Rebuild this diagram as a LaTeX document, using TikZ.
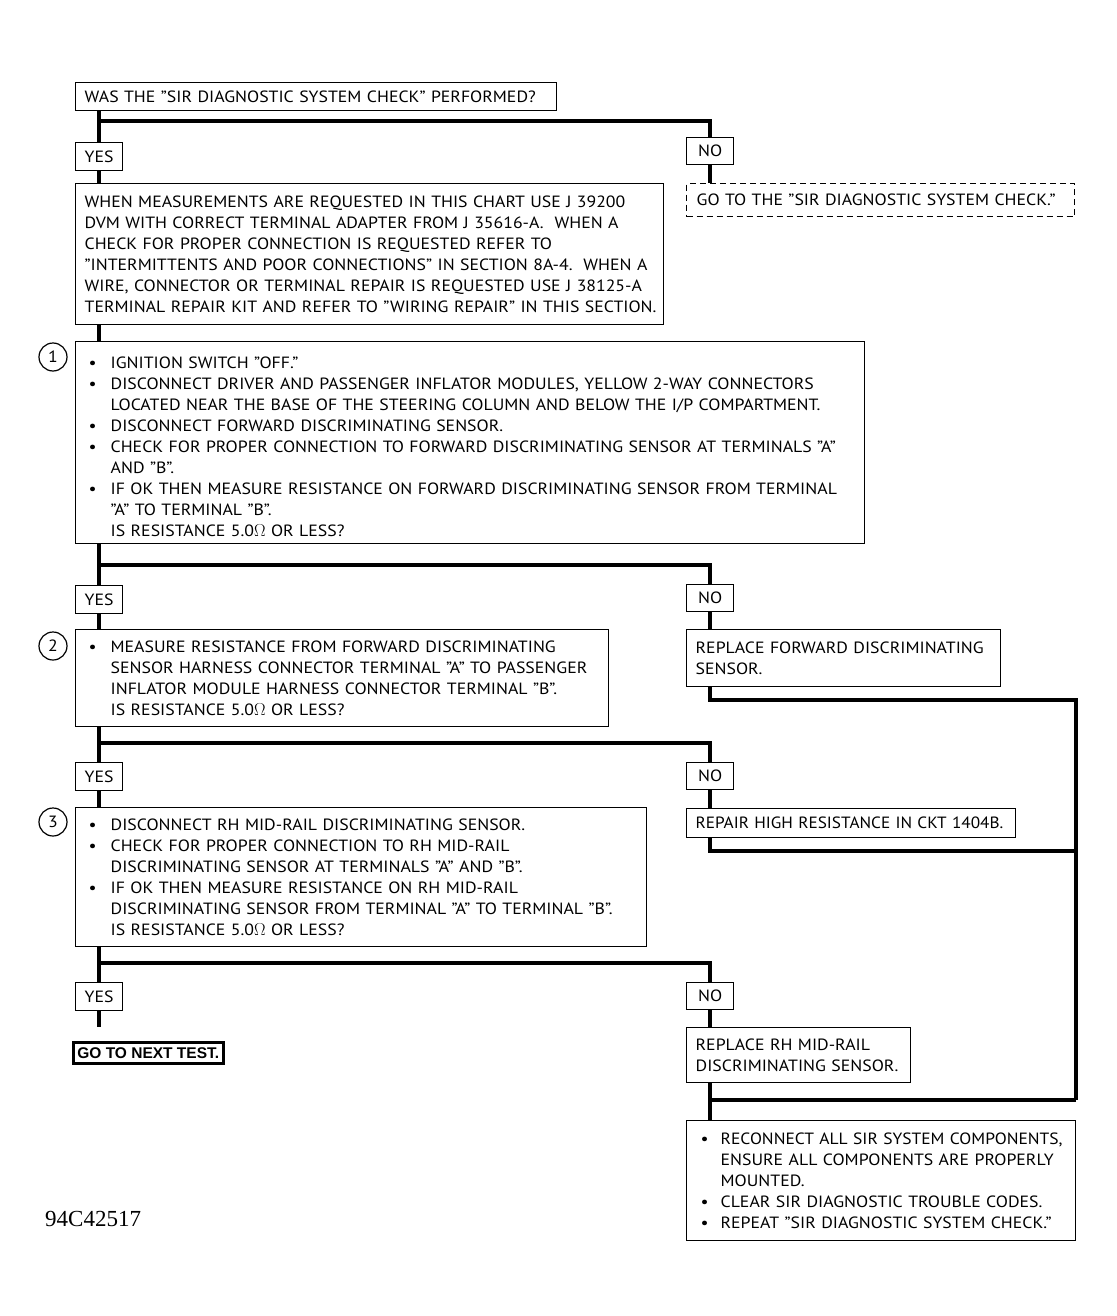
\documentclass[tikz,border=0pt]{standalone}
\usepackage{fontspec}
\usepackage{graphicx}
\setmainfont[FakeStretch=1.09]{PT Sans}
\newfontfamily\numfont{Liberation Serif}
\newfontfamily\nextfont{Liberation Sans}
\newcommand\myfs{\fontsize{16.3}{21}\selectfont}
\newcommand\Ln[1]{\mbox{#1}}
\newcommand\bl{\makebox[22pt][l]{\textbullet}}
\newcommand\ind{\hspace*{22pt}}
\newcommand\blf{\makebox[20pt][l]{\textbullet}}
\newcommand\indf{\hspace*{20pt}}
\newcommand\ohm{$\Omega$}
\begin{document}
\begin{tikzpicture}[x=1pt,y=-1pt,
  box/.style={draw, line width=1.3pt, anchor=north west, inner xsep=9pt, inner ysep=0pt, align=left, font=\myfs},
  yn/.style={draw, line width=1.3pt, anchor=north west, minimum width=47pt, minimum height=28pt, inner sep=0pt, font=\myfs},
  num/.style={draw, circle, line width=1.2pt, minimum size=28pt, inner sep=0pt, font=\myfs},
  conn/.style={line width=4pt}]
\useasboundingbox (0,0) rectangle (1116,1316);

% top question
\node[box, minimum width=481pt, minimum height=28pt, text width=463pt] (q0) at (75,82)
  {\Ln{WAS THE "SIR DIAGNOSTIC SYSTEM CHECK" PERFORMED?}};
\node[yn] (yes1) at (75,142) {YES};
\node[yn, minimum height=27pt] (no1) at (686,137) {NO};
\node[box, minimum width=588pt, minimum height=141pt, text width=570pt] (info) at (75,183)
  {\Ln{WHEN MEASUREMENTS ARE REQUESTED IN THIS CHART USE J 39200}\\
   \Ln{DVM WITH CORRECT TERMINAL ADAPTER FROM J 35616-A.\ \ WHEN A}\\
   \Ln{CHECK FOR PROPER CONNECTION IS REQUESTED REFER TO}\\
   \Ln{"INTERMITTENTS AND POOR CONNECTIONS" IN SECTION 8A-4.\ \ WHEN A}\\
   \Ln{WIRE, CONNECTOR OR TERMINAL REPAIR IS REQUESTED USE J 38125-A}\\
   \Ln{TERMINAL REPAIR KIT AND REFER TO "WIRING REPAIR" IN THIS SECTION.}};
\node[box, dashed, dash pattern=on 6pt off 4pt, inner xsep=10pt, minimum width=388pt, minimum height=33pt, text width=368pt] (go1) at (686,183)
  {\Ln{GO TO THE "SIR DIAGNOSTIC SYSTEM CHECK."}};

% step 1
\node[box, inner xsep=13pt, minimum width=789pt, minimum height=202pt, text width=763pt] (b1) at (75,341)
  {\Ln{\rule{0pt}{19pt}\bl IGNITION SWITCH "OFF."}\\
   \Ln{\bl DISCONNECT DRIVER AND PASSENGER INFLATOR MODULES, YELLOW 2-WAY CONNECTORS}\\
   \Ln{\ind LOCATED NEAR THE BASE OF THE STEERING COLUMN AND BELOW THE I/P COMPARTMENT.}\\
   \Ln{\bl DISCONNECT FORWARD DISCRIMINATING SENSOR.}\\
   \Ln{\bl CHECK FOR PROPER CONNECTION TO FORWARD DISCRIMINATING SENSOR AT TERMINALS "A"}\\
   \Ln{\ind AND "B".}\\
   \Ln{\bl IF OK THEN MEASURE RESISTANCE ON FORWARD DISCRIMINATING SENSOR FROM TERMINAL}\\
   \Ln{\ind "A" TO TERMINAL "B".}\\
   \Ln{\ind IS RESISTANCE 5.0\ohm{} OR LESS?}};
\node[num] (c1) at (53,357) {1};

\node[yn] (yes2) at (75,585) {YES};
\node[yn, minimum height=27pt] (no2) at (686,584) {NO};

% step 2
\node[box, inner xsep=13pt, minimum width=533pt, minimum height=97pt, text width=507pt] (b2) at (75,629)
  {\Ln{\rule{0pt}{8pt}\bl MEASURE RESISTANCE FROM FORWARD DISCRIMINATING}\\
   \Ln{\ind SENSOR HARNESS CONNECTOR TERMINAL "A" TO PASSENGER}\\
   \Ln{\ind INFLATOR MODULE HARNESS CONNECTOR TERMINAL "B".}\\
   \Ln{\ind IS RESISTANCE 5.0\ohm{} OR LESS?}};
\node[num] (c2) at (53,646) {2};
\node[box, minimum width=314pt, minimum height=57pt, text width=296pt] (rep1) at (686,629)
  {\Ln{REPLACE FORWARD DISCRIMINATING}\\ \Ln{SENSOR.}};

\node[yn] (yes3) at (75,762) {YES};
\node[yn, minimum height=27pt] (no3) at (686,762) {NO};

% step 3
\node[box, inner xsep=13pt, minimum width=571pt, minimum height=139pt, text width=545pt] (b3) at (75,807)
  {\Ln{\bl DISCONNECT RH MID-RAIL DISCRIMINATING SENSOR.}\\
   \Ln{\bl CHECK FOR PROPER CONNECTION TO RH MID-RAIL}\\
   \Ln{\ind DISCRIMINATING SENSOR AT TERMINALS "A" AND "B".}\\
   \Ln{\bl IF OK THEN MEASURE RESISTANCE ON RH MID-RAIL}\\
   \Ln{\ind DISCRIMINATING SENSOR FROM TERMINAL "A" TO TERMINAL "B".}\\
   \Ln{\ind IS RESISTANCE 5.0\ohm{} OR LESS?}};
\node[num] (c3) at (53,822) {3};
\node[box, minimum width=329pt, minimum height=29pt, text width=311pt] (rep2) at (686,808)
  {\Ln{\scalebox{0.97}[1]{REPAIR HIGH RESISTANCE IN CKT 1404B.}}};

\node[yn] (yes4) at (75,982) {YES};
\node[yn, minimum height=27pt] (no4) at (686,982) {NO};

\node[draw, line width=2.5pt, anchor=north west, minimum width=150pt, minimum height=21pt, inner sep=0pt, font=\nextfont\bfseries\fontsize{15.5}{17}\selectfont] (next) at (72,1041) {GO TO NEXT TEST.};
\node[box, minimum width=224pt, minimum height=55pt, text width=206pt] (rep3) at (686,1027)
  {\Ln{\rule{0pt}{6pt}REPLACE RH MID-RAIL}\\ \Ln{DISCRIMINATING SENSOR.}};

\node[box, inner xsep=14pt, minimum width=389pt, minimum height=120pt, text width=361pt] (fin) at (686,1120)
  {\Ln{\blf \scalebox{0.985}[1]{RECONNECT ALL SIR SYSTEM COMPONENTS,}}\\
   \Ln{\indf ENSURE ALL COMPONENTS ARE PROPERLY}\\
   \Ln{\indf MOUNTED.}\\
   \Ln{\blf CLEAR SIR DIAGNOSTIC TROUBLE CODES.}\\
   \Ln{\blf REPEAT "SIR DIAGNOSTIC SYSTEM CHECK."}};

\node[anchor=base west, inner sep=0pt, font=\numfont\fontsize{23}{25}\selectfont] (code) at (45,1226) {94C42517};

% junction coordinates
\coordinate (j1) at (98,121);
\coordinate (j2) at (98,565);
\coordinate (j3) at (98,743);
\coordinate (j4) at (98,963);
\coordinate (r1) at (1076,700);
\coordinate (r2) at (1076,851);
\coordinate (r3) at (1076,1100);
\coordinate (e4) at (98,1027);

% connectors
\draw[conn] (q0.south -| yes1.north) -- (yes1.north);
\draw[conn] (j1 -| yes1.north) -| (no1.north);
\draw[conn] (no1.south) -- (no1.south |- go1.north);
\draw[conn] (yes1.south) -- (yes1.south |- info.north);
\draw[conn] (info.south -| yes1.south) -- (b1.north -| yes1.south);

\draw[conn] (b1.south -| yes2.north) -- (yes2.north);
\draw[conn] (j2 -| yes2.north) -| (no2.north);
\draw[conn] (yes2.south) -- (yes2.south |- b2.north);
\draw[conn] (no2.south) -- (no2.south |- rep1.north);

\draw[conn] (b2.south -| yes3.north) -- (yes3.north);
\draw[conn] (j3 -| yes3.north) -| (no3.north);
\draw[conn] (yes3.south) -- (yes3.south |- b3.north);
\draw[conn] (no3.south) -- (no3.south |- rep2.north);

\draw[conn] (b3.south -| yes4.north) -- (yes4.north);
\draw[conn] (j4 -| yes4.north) -| (no4.north);
\draw[conn] (yes4.south) -- (yes4.south |- e4);
\draw[conn] (no4.south) -- (no4.south |- rep3.north);

\draw[conn] (rep1.south -| no2.south) |- (r1) -- (r3);
\draw[conn] (rep2.south -| no3.south) |- (r2);
\draw[conn] (rep3.south -| no4.south) -- (fin.north -| no4.south);
\draw[conn] (r3) -- (r3 -| no4.south);
\end{tikzpicture}
\end{document}
